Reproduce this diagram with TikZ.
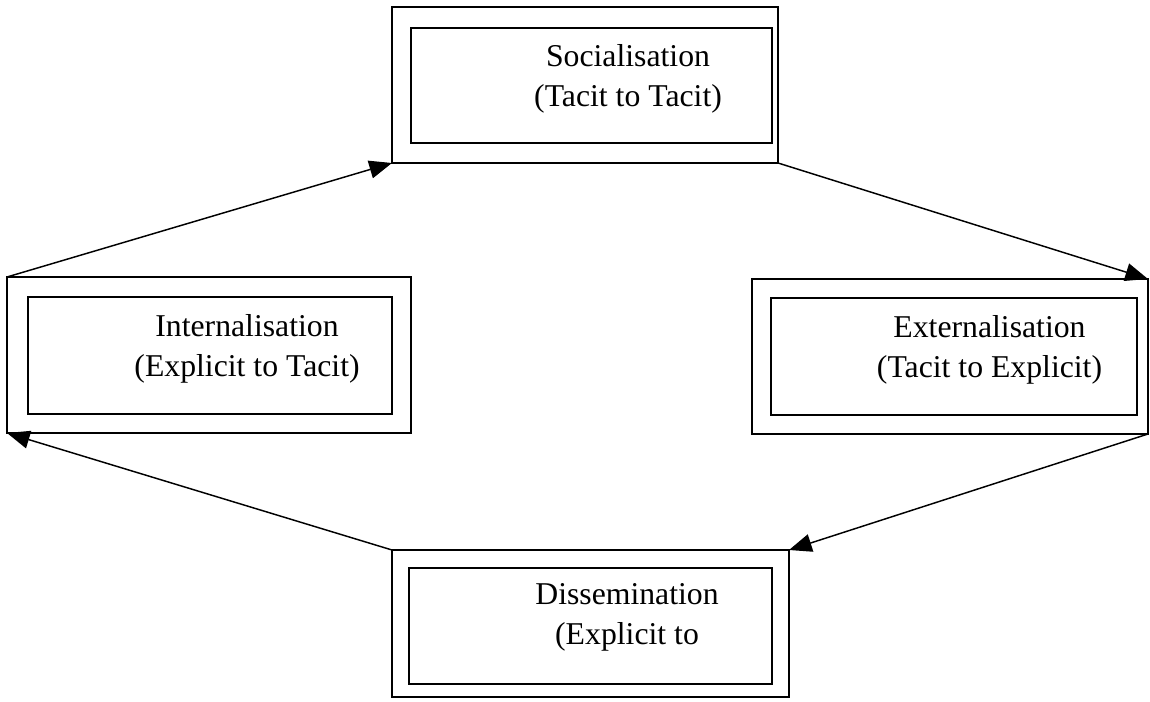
\documentclass[tikz,border=0pt]{standalone}
\usepackage{fontspec}
\setmainfont{Liberation Serif}
\usetikzlibrary{arrows.meta}
\begin{document}
\begin{tikzpicture}[x=0.75pt,y=-0.75pt,
  outerbox/.style={draw,line width=1.4pt,outer sep=0pt,inner sep=0pt},
  innerbox/.style={draw,line width=1.4pt,outer sep=0pt,inner sep=0pt},
  label/.style={align=center,inner sep=0pt,font=\fontsize{23.8}{30}\selectfont},
  flow/.style={line width=1.1pt,-{Triangle[length=17pt,width=13.5pt]}}]
\useasboundingbox (0,0) rectangle (1150,702);
% top
\node[outerbox,minimum width=289.5pt,minimum height=117pt] (soc) at (585,85) {};
\node[innerbox,minimum width=270.75pt,minimum height=86.25pt] (socin) at (591.5,85.5) {};
\node[label] (soct) at (628,79) {Socialisation\\(Tacit to Tacit)};
% left
\node[outerbox,minimum width=303pt,minimum height=117pt] (int) at (209,355) {};
\node[innerbox,minimum width=273pt,minimum height=87.75pt] (intin) at (210,355.5) {};
\node[label] (intt) at (247,348.5) {Internalisation\\(Explicit to Tacit)};
% right
\node[outerbox,minimum width=297pt,minimum height=116.25pt] (ext) at (950,356.5) {};
\node[innerbox,minimum width=274.5pt,minimum height=87.75pt] (extin) at (954,356.5) {};
\node[label] (extt) at (989.5,350) {Externalisation\\(Tacit to Explicit)};
% bottom
\node[outerbox,minimum width=297.75pt,minimum height=110.25pt] (dis) at (590.5,623.5) {};
\node[innerbox,minimum width=272.25pt,minimum height=87pt] (disin) at (590.5,626) {};
\node[label] (dist) at (627,617) {Dissemination\\(Explicit to};
% connectors
\draw[flow] (int.north west) -- (soc.south west);
\draw[flow] (soc.south east) -- (ext.north east);
\draw[flow] (ext.south east) -- (dis.north east);
\draw[flow] (dis.north west) -- (int.south west);
\end{tikzpicture}
\end{document}
